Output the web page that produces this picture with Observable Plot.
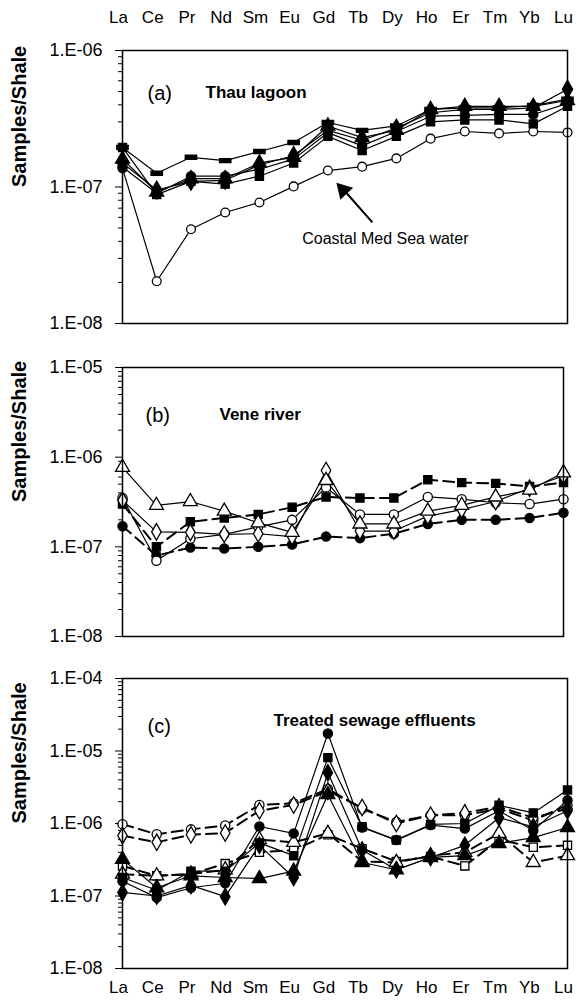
<!DOCTYPE html>
<html><head><meta charset="utf-8">
<script src="https://cdn.jsdelivr.net/npm/d3@7"></script>
<script src="https://cdn.jsdelivr.net/npm/@observablehq/plot@0.6"></script>
<style>
body{margin:0;background:#fff;}
#wrap{position:relative;width:577px;height:1002px;font-family:"Liberation Sans",Arial,sans-serif;}
#wrap > svg{position:absolute;left:0;}
</style></head>
<body><div id="wrap"></div>
<script>
const elements = ["La","Ce","Pr","Nd","Sm","Eu","Gd","Tb","Dy","Ho","Er","Tm","Yb","Lu"];

// Panel (a) Thau lagoon
const aDiamond  = [1.5e-7,9.5e-8,1.1e-7,1.12e-7,1.45e-7,1.7e-7,2.6e-7,2.2e-7,2.7e-7,3.5e-7,3.7e-7,3.7e-7,3.8e-7,5.2e-7];
const aSquare   = [1.95e-7,8.8e-8,1.1e-7,1.05e-7,1.2e-7,1.5e-7,2.35e-7,1.85e-7,2.35e-7,3.0e-7,3.1e-7,3.1e-7,2.9e-7,3.9e-7];
const aCircle   = [1.4e-7,9.0e-8,1.2e-7,1.2e-7,1.35e-7,1.6e-7,2.5e-7,2.0e-7,2.55e-7,3.3e-7,3.35e-7,3.4e-7,3.4e-7,4.1e-7];
const aTriangle = [1.6e-7,9.2e-8,1.15e-7,1.15e-7,1.5e-7,1.65e-7,2.8e-7,2.3e-7,2.6e-7,3.7e-7,3.9e-7,3.9e-7,3.9e-7,4.3e-7];
const aDash     = [1.95e-7,1.26e-7,1.65e-7,1.56e-7,1.82e-7,2.12e-7,2.97e-7,2.6e-7,2.8e-7,3.7e-7,3.8e-7,3.8e-7,3.95e-7,4.4e-7];
const aMedSea   = [1.37e-7,2.04e-8,4.9e-8,6.5e-8,7.7e-8,1.01e-7,1.32e-7,1.41e-7,1.62e-7,2.26e-7,2.55e-7,2.47e-7,2.55e-7,2.51e-7];

// Panel (b) Vene river
const bSquareF  = [3.0e-7,1.0e-7,1.9e-7,2.1e-7,2.3e-7,2.76e-7,3.6e-7,3.5e-7,3.5e-7,5.6e-7,5.2e-7,5.1e-7,4.7e-7,5.2e-7];
const bCircleF  = [1.7e-7,8.0e-8,9.8e-8,9.6e-8,1.0e-7,1.06e-7,1.3e-7,1.25e-7,1.4e-7,1.8e-7,2.0e-7,2.0e-7,2.1e-7,2.4e-7];
const bCircleO  = [3.5e-7,7.0e-8,1.23e-7,1.38e-7,1.67e-7,2.0e-7,4.6e-7,2.3e-7,2.3e-7,3.6e-7,3.4e-7,3.1e-7,3.0e-7,3.4e-7];
const bDiamondO = [3.3e-7,1.47e-7,1.45e-7,1.38e-7,1.4e-7,1.3e-7,7.1e-7,1.5e-7,1.5e-7,2.2e-7,2.6e-7,3.2e-7,4.5e-7,6.2e-7];
const bTriangleO= [7.7e-7,2.9e-7,3.2e-7,2.5e-7,1.85e-7,1.45e-7,5.5e-7,1.8e-7,1.8e-7,2.5e-7,2.9e-7,3.6e-7,4.3e-7,6.7e-7];

// Panel (c) Treated sewage effluents
const cCircleO  = [9.8e-7,7.1e-7,8.3e-7,9.4e-7,1.8e-6,1.9e-6,3.0e-6,1.6e-6,1.05e-6,1.3e-6,1.3e-6,1.6e-6,1.1e-6,1.8e-6];
const cDiamondO = [6.8e-7,5.5e-7,7.0e-7,7.4e-7,1.5e-6,1.8e-6,2.8e-6,1.66e-6,1.0e-6,1.3e-6,1.4e-6,1.7e-6,1.2e-6,1.6e-6];
const cCircleF  = [1.6e-7,9.5e-8,1.3e-7,1.5e-7,9.1e-7,7.3e-7,1.74e-5,8.8e-7,5.9e-7,9.5e-7,8.5e-7,1.5e-6,8.0e-7,2.1e-6];
const cSquareF  = [1.8e-7,1.2e-7,2.2e-7,2.2e-7,5.4e-7,3.6e-7,8.1e-6,9.0e-7,5.9e-7,9.7e-7,1.0e-6,1.78e-6,1.4e-6,2.9e-6];
const cDiamondF = [1.12e-7,1.0e-7,1.4e-7,9.8e-8,5.0e-7,1.8e-7,5.0e-6,4.3e-7,2.3e-7,3.4e-7,5.0e-7,1.2e-6,9.0e-7,1.5e-6];
const cTriangleF= [3.2e-7,1.3e-7,1.9e-7,1.8e-7,1.74e-7,2.2e-7,2.5e-6,2.9e-7,2.3e-7,3.4e-7,3.6e-7,5.3e-7,6.4e-7,8.8e-7];
const cSquareO  = [2.6e-7,1.9e-7,2.0e-7,2.8e-7,4.0e-7,4.3e-7,7.0e-7,4.5e-7,3.0e-7,3.5e-7,2.6e-7,6.0e-7,4.7e-7,5.0e-7];
const cTriangleO= [2.0e-7,1.9e-7,2.0e-7,2.3e-7,6.0e-7,5.5e-7,7.3e-7,3.0e-7,2.9e-7,3.6e-7,4.0e-7,7.3e-7,2.9e-7,3.6e-7];

const FONT = '"Liberation Sans", Arial, sans-serif';
const dashSymbol = {draw(ctx, size){ const w = Math.sqrt(size)*0.7, h = w*0.36; ctx.rect(-w,-h,2*w,2*h); }};
const expFmt = d => { const e = Math.round(Math.log10(d)); return "1.E" + (e<0?"-":"+") + String(Math.abs(e)).padStart(2,"0"); };

function seriesMarks(specs){
  const marks = [];
  for (const s of specs) {
    const rows = s.values.map((v,i)=>({i, v}));
    marks.push(Plot.line(rows, {x:"i", y:"v", stroke:"black", strokeWidth: s.dash ? 2 : 1.2, strokeDasharray: s.dash ? "11,6" : null}));
  }
  for (const s of specs) {
    const rows = s.values.map((v,i)=>({i, v}));
    marks.push(Plot.dot(rows, {x:"i", y:"v", symbol: s.symbol, r: s.r || 4.6, fill: s.open ? "white" : "black", stroke:"black", strokeWidth: 1.3}));
  }
  return marks;
}

function yAxes(lo, hi){
  const decades = d3.range(lo, hi+1).map(e => Math.pow(10, e));
  const minors = [];
  for (let e = lo; e < hi; e++) for (let k = 2; k <= 9; k++) minors.push(k*Math.pow(10, e));
  return [
    Plot.axisY(minors, {tickSize: 4, tickFormat: () => "", label: null}),
    Plot.axisY(decades, {tickSize: 7, tickPadding: 13, tickFormat: expFmt, fontSize: 18, label: null}),
  ];
}

function yLabel(){
  return Plot.text(["Samples/Shale"], {frameAnchor: "left", text: d=>d, rotate: -90, dx: -103, fontSize: 20, fontWeight: "bold"});
}

function panel({top, height, mt, mb, mr, lo, hi, specs, extra, xTop, xBottom}){
  const marks = [
    ...yAxes(lo, hi),
    yLabel(),
    ...seriesMarks(specs),
    ...extra,
    Plot.frame({stroke:"black", strokeWidth: 1.5}),
  ];
  if (xTop) marks.push(Plot.axisX(d3.range(14), {anchor:"top", tickSize:0, tickPadding: 28, tickFormat: i=>elements[i], fontSize: 17, dx: -4, label: null}));
  if (xBottom) marks.push(Plot.axisX(d3.range(14), {anchor:"bottom", tickSize:0, tickPadding: 12, tickFormat: i=>elements[i], fontSize: 17, dx: -4, label: null}));
  const svg = Plot.plot({
    width: 577, height, marginTop: mt, marginBottom: mb, marginLeft: 122, marginRight: mr,
    style: {fontFamily: FONT, color: "black", background: "white", overflow: "visible"},
    x: {type: "linear", domain: [0, 13], label: null, axis: (xTop || xBottom) ? undefined : null},
    y: {type: "log", domain: [Math.pow(10, lo), Math.pow(10, hi)], label: null},
    marks
  });
  svg.style.top = top + "px";
  document.getElementById("wrap").appendChild(svg);
}

// Panel (a)
const arrowLine = [{x1: 7.30, y1: 5.5e-8, x2: 6.55, y2: 9.0e-8}];
const arrowTip = [{x: 6.45, y: 9.5e-8}];
const noteText = [{x: 7.68, y: 4.15e-8, t: "Coastal Med Sea water"}];
panel({
  top: 0, height: 340, mt: 50, mb: 17, mr: 10, lo: -8, hi: -6, xTop: true,
  specs: [
    {values: aMedSea, symbol: "circle", open: true, r: 4.4},
    {values: aDash, symbol: dashSymbol},
    {values: aSquare, symbol: "square"},
    {values: aCircle, symbol: "circle"},
    {values: aTriangle, symbol: "triangle", r: 5.2},
    {values: aDiamond, symbol: "diamond", r: 5.4},
  ],
  extra: [
    Plot.link(arrowLine, {x1:"x1", y1:"y1", x2:"x2", y2:"y2", stroke:"black", strokeWidth: 2}),
    Plot.dot(arrowTip, {x:"x", y:"y", symbol:"triangle", r: 6.5, fill:"black", rotate: -43}),
    Plot.text(noteText, {x:"x", y:"y", text:"t", fontSize: 16}),
    Plot.text(["(a)"], {frameAnchor:"top-left", text:d=>d, dx: 25, dy: 35, textAnchor:"start", fontSize: 20}),
    Plot.text(["Thau lagoon"], {frameAnchor:"top-left", text:d=>d, dx: 83, dy: 35, textAnchor:"start", fontSize: 17, fontWeight:"bold"}),
  ]
});

// Panel (b)
panel({
  top: 340, height: 310, mt: 27, mb: 14, mr: 14, lo: -8, hi: -5,
  specs: [
    {values: bSquareF, symbol: "square", dash: true},
    {values: bCircleF, symbol: "circle", dash: true},
    {values: bCircleO, symbol: "circle", open: true},
    {values: bDiamondO, symbol: "diamond", open: true, r: 5},
    {values: bTriangleO, symbol: "triangle", open: true, r: 5.2},
  ],
  extra: [
    Plot.text(["(b)"], {frameAnchor:"top-left", text:d=>d, dx: 23, dy: 40, textAnchor:"start", fontSize: 20}),
    Plot.text(["Vene river"], {frameAnchor:"top-left", text:d=>d, dx: 97, dy: 40, textAnchor:"start", fontSize: 17, fontWeight:"bold"}),
  ]
});

// Panel (c)
panel({
  top: 650, height: 352, mt: 28, mb: 34, mr: 10, lo: -8, hi: -4, xBottom: true,
  specs: [
    {values: cCircleO, symbol: "circle", open: true, dash: true},
    {values: cDiamondO, symbol: "diamond", open: true, dash: true, r: 5},
    {values: cSquareO, symbol: "square", open: true, dash: true},
    {values: cTriangleO, symbol: "triangle", open: true, dash: true, r: 5.2},
    {values: cTriangleF, symbol: "triangle", r: 5.2},
    {values: cDiamondF, symbol: "diamond", r: 5},
    {values: cSquareF, symbol: "square"},
    {values: cCircleF, symbol: "circle"},
  ],
  extra: [
    Plot.text(["(c)"], {frameAnchor:"top-left", text:d=>d, dx: 25, dy: 40, textAnchor:"start", fontSize: 20}),
    Plot.text(["Treated sewage effluents"], {frameAnchor:"top-left", text:d=>d, dx: 151, dy: 35, textAnchor:"start", fontSize: 17, fontWeight:"bold"}),
  ]
});
</script></body></html>
